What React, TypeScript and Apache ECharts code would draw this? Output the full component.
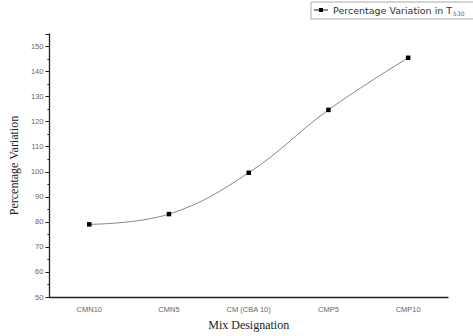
import React, { useEffect, useRef } from "react";
import * as echarts from "echarts";

const categories = ["CMN10", "CMN5", "CM (CBA 10)", "CMP5", "CMP10"];
const values = [79, 83.1, 99.6, 124.7, 145.5];
const seriesName = "Percentage Variation in T530";

export default function App() {
  const ref = useRef<HTMLDivElement>(null);
  useEffect(() => {
    if (!ref.current) return;
    const chart = echarts.init(ref.current, null, { renderer: "svg" });
    chart.setOption({
      animation: false,
      backgroundColor: "#fff",
      grid: { left: 46, right: 25, top: 34, bottom: 34, containLabel: false },
      legend: {
        left: 311,
        top: 2,
        padding: [3, 30, 3, 2],
        itemGap: 0,
        borderColor: "#aaa",
        borderWidth: 1,
        itemWidth: 14,
        itemHeight: 5,
        data: [seriesName],
        formatter: () => "{a|Percentage Variation in T}{b|530}",
        textStyle: {
          fontFamily: "DejaVu Sans",
          fontSize: 9.5,
          color: "#333",
          rich: {
            a: { fontFamily: "DejaVu Sans", fontSize: 9.5, color: "#333" },
            b: { fontFamily: "DejaVu Sans", fontSize: 6, color: "#666", padding: [6, 0, 0, 1] },
          },
        },
      },
      xAxis: [
        {
          type: "category",
          data: categories,
          boundaryGap: true,
          name: "Mix Designation",
          nameLocation: "middle",
          nameGap: 22,
          nameTextStyle: { fontFamily: "Liberation Serif", fontSize: 12, color: "#222" },
          axisLine: { lineStyle: { color: "#222", width: 1.3 } },
          axisTick: { alignWithLabel: true, length: 4, lineStyle: { color: "#222" } },
          axisLabel: { fontFamily: "Liberation Sans", fontSize: 7.5, color: "#666", margin: 8 },
          splitLine: { show: false },
        },
        {
          type: "category",
          data: categories,
          boundaryGap: true,
          position: "bottom",
          axisLine: { show: false },
          axisTick: { alignWithLabel: false, length: 2, lineStyle: { color: "#222" } },
          axisLabel: { show: false },
          splitLine: { show: false },
        },
      ],
      yAxis: {
        type: "value",
        min: 50,
        max: 155,
        interval: 10,
        name: "Percentage Variation",
        nameLocation: "middle",
        nameGap: 20,
        nameTextStyle: { fontFamily: "Liberation Serif", fontSize: 12, color: "#222" },
        axisLine: { show: true, lineStyle: { color: "#222", width: 1.3 } },
        axisTick: { show: true, length: 4, lineStyle: { color: "#222" } },
        minorTick: { show: true, splitNumber: 2, length: 2, lineStyle: { color: "#222" } },
        axisLabel: {
          fontFamily: "Liberation Sans",
          fontSize: 7.5,
          color: "#666",
          margin: 6,
          showMaxLabel: false,
        },
        splitLine: { show: false },
      },
      series: [
        {
          name: seriesName,
          type: "line",
          xAxisIndex: 0,
          data: values,
          smooth: 0.4,
          symbol: "rect",
          symbolSize: 4.5,
          itemStyle: { color: "#000" },
          lineStyle: { color: "#888", width: 1 },
        },
      ],
    });
    return () => chart.dispose();
  }, []);
  return <div ref={ref} style={{ width: 473, height: 336, position: "absolute", left: 0, top: 0 }} />;
}
